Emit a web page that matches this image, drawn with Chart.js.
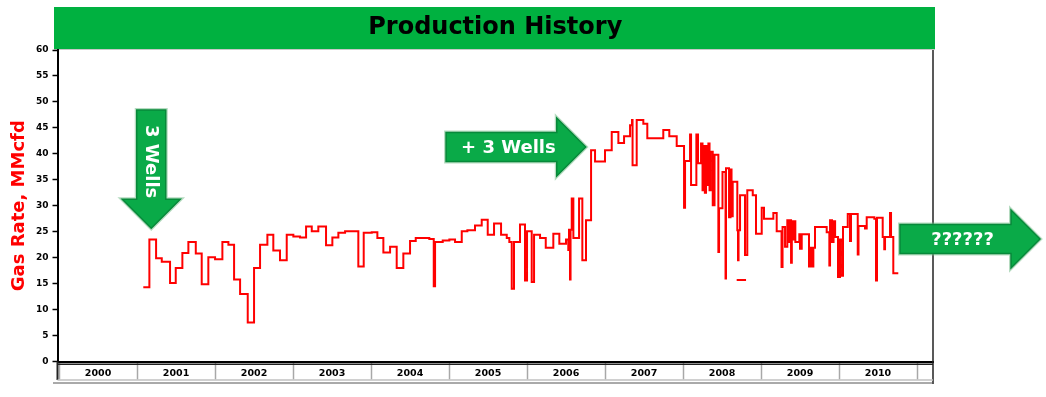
<!DOCTYPE html>
<html><head><meta charset="utf-8">
<script src="https://cdn.jsdelivr.net/npm/chart.js@4.4.1/dist/chart.umd.min.js"></script>
<style>html,body{margin:0;padding:0;background:#fff;overflow:hidden}canvas{display:block}</style>
</head><body>
<canvas id="c" width="1046" height="397"></canvas>
<script>
// ---- data ----
const years = ['2000','2001','2002','2003','2004','2005','2006','2007','2008','2009','2010'];
const times = [
 2001.080,2001.158,2001.244,2001.317,2001.423,2001.496,2001.581,2001.658,2001.753,2001.829,2001.914,
 2002.000,2002.094,2002.171,2002.244,2002.321,2002.419,2002.500,2002.577,2002.671,2002.747,2002.833,2002.919,
 2003.004,2003.090,2003.167,2003.240,2003.324,2003.423,2003.504,2003.581,2003.667,2003.837,2003.906,
 2004.009,2004.081,2004.158,2004.244,2004.329,2004.414,2004.500,2004.573,2004.747,2004.804,2004.821,2004.919,
 2005.004,2005.077,2005.163,2005.235,2005.333,2005.419,2005.496,2005.577,2005.667,2005.740,2005.773,2005.804,2005.833,2005.910,2005.974,
 2006.000,2006.060,2006.090,2006.167,2006.240,2006.337,2006.414,2006.500,2006.529,2006.538,2006.551,2006.558,2006.573,2006.594,2006.667,2006.709,2006.756,2006.821,2006.872,
 2007.000,2007.086,2007.171,2007.244,2007.321,2007.346,2007.353,2007.406,2007.491,2007.542,2007.747,2007.824,2007.919,
 2008.013,2008.026,2008.090,2008.103,2008.171,2008.192,2008.231,2008.250,2008.265,2008.280,2008.295,2008.310,2008.325,2008.340,2008.355,2008.381,2008.404,2008.453,2008.462,2008.506,2008.545,2008.551,2008.590,2008.609,2008.622,2008.637,2008.696,2008.705,2008.712,2008.731,2008.795,2008.824,2008.894,2008.936,
 2009.009,2009.038,2009.158,2009.201,2009.263,2009.276,2009.308,2009.337,2009.360,2009.375,2009.385,2009.395,2009.410,2009.425,2009.440,2009.491,2009.500,2009.522,2009.615,2009.628,2009.654,2009.671,2009.692,2009.842,2009.876,2009.885,2009.910,2009.930,2009.950,2009.987,
 2010.013,2010.025,2010.051,2010.112,2010.141,2010.154,2010.240,2010.250,2010.333,2010.355,2010.453,2010.474,2010.487,2010.560,2010.580,2010.590,2010.654,2010.667,2010.696,2010.760
];
const rates = [
 14.3,23.5,19.9,19.2,15.1,18.0,20.9,23.0,20.8,14.9,20.1,
 19.7,23.0,22.5,15.8,13.0,7.5,18.0,22.5,24.4,21.4,19.5,24.4,
 24.1,23.9,26.0,25.1,26.0,22.4,23.9,24.8,25.1,18.3,24.8,
 24.9,23.8,21.0,22.1,18.0,20.8,23.2,23.8,23.6,14.5,23.0,23.3,
 23.5,23.0,25.1,25.3,26.2,27.3,24.4,26.6,24.4,23.8,23.0,14.0,23.0,26.4,15.6,
 25.1,15.3,24.4,23.8,21.9,24.6,22.7,23.5,21.5,25.4,15.8,25.4,31.4,23.8,31.4,19.5,27.2,40.7,38.5,
 40.7,44.2,42.1,43.4,45.5,46.5,37.8,46.5,45.8,43.0,44.6,43.4,41.5,
 29.6,38.6,43.7,34.0,43.7,38.2,42.0,33.0,41.5,32.5,41.5,34.0,42.0,33.0,40.4,30.1,39.8,21.1,29.5,36.5,16.0,37.2,27.8,37.0,28.0,34.6,25.3,19.5,25.3,32.0,20.5,33.0,32.0,24.6,
 29.6,27.5,28.6,25.1,18.2,25.9,22.1,27.2,23.0,27.2,19.0,27.0,23.5,27.0,23.0,24.5,21.7,24.5,18.3,21.9,18.3,21.9,25.9,24.9,18.5,27.2,23.0,27.0,24.0,16.3,
 23.5,16.5,25.9,28.4,23.2,28.4,20.6,26.1,25.6,27.8,27.5,15.6,27.7,24.0,21.6,24.0,28.6,24.0,17.0,17.0
];
const isolatedTimes = [2008.688, 2008.808];
const isolatedRates = [15.7, 15.7];
const yMin = 0, yMax = 60, yStep = 5;
const xMin = 1999.98, xMax = 2011.205;

// annotation arrows (anchor positions in data units)
const arrowTexts = ['3 Wells', '+ 3 Wells', '??????'];
const arrowDirs = ['down', 'right', 'right'];
const arrowTailX = [2001.182, 2004.962, 2010.782];
const arrowTipX  = [2001.182, 2006.753, 2012.577];
const arrowTailY = [48.44, 41.32, 23.60];
const arrowTipY  = [25.66, 41.32, 23.60];

// x ticks: year boundaries (marks) + mid-year positions (labels)
const xTickValues = [], xTickLabels = [];
years.forEach((y, i) => {
  const v = parseInt(y, 10);
  xTickValues.push(v); xTickLabels.push('');
  xTickValues.push(v + 0.5); xTickLabels.push(y);
});
xTickValues.push(parseInt(years[years.length - 1], 10) + 1); xTickLabels.push('');

const FONT = "'DejaVu Sans', Verdana, sans-serif";

function drawArrow(ctx, dir, tail, tip, text) {
  const shaft = 29, head = 58, hl = 29;
  ctx.save();
  ctx.beginPath();
  if (dir === 'right') {
    const y = tail.y, x0 = tail.x, x1 = tip.x;
    ctx.moveTo(x0, y - shaft / 2);
    ctx.lineTo(x1 - hl, y - shaft / 2);
    ctx.lineTo(x1 - hl, y - head / 2);
    ctx.lineTo(x1, y);
    ctx.lineTo(x1 - hl, y + head / 2);
    ctx.lineTo(x1 - hl, y + shaft / 2);
    ctx.lineTo(x0, y + shaft / 2);
  } else {
    const x = tail.x, y0 = tail.y, y1 = tip.y;
    ctx.moveTo(x - shaft / 2, y0);
    ctx.lineTo(x - shaft / 2, y1 - hl);
    ctx.lineTo(x - head / 2, y1 - hl);
    ctx.lineTo(x, y1);
    ctx.lineTo(x + head / 2, y1 - hl);
    ctx.lineTo(x + shaft / 2, y1 - hl);
    ctx.lineTo(x + shaft / 2, y0);
  }
  ctx.closePath();
  ctx.lineJoin = 'miter';
  ctx.strokeStyle = 'rgba(120,190,140,0.55)';
  ctx.lineWidth = 4;
  ctx.stroke();
  ctx.fillStyle = '#0AAA48';
  ctx.fill();
  ctx.strokeStyle = '#07893A';
  ctx.lineWidth = 1.5;
  ctx.stroke();
  ctx.fillStyle = '#ffffff';
  ctx.font = 'bold 18px ' + FONT;
  ctx.textAlign = 'center';
  ctx.textBaseline = 'middle';
  if (dir === 'right') {
    const cx = (tail.x + tip.x - hl) / 2 + 7;
    ctx.fillText(text, cx, tail.y + 1);
  } else {
    const cy = (tail.y + tip.y - hl) / 2 + 7;
    ctx.translate(tail.x, cy);
    ctx.rotate(Math.PI / 2);
    ctx.fillText(text, 0, 1);
  }
  ctx.restore();
}

const decor = {
  id: 'decor',
  beforeDraw(chart) {
    const {ctx, chartArea: ca} = chart;
    ctx.save();
    ctx.fillStyle = '#00B140';
    ctx.fillRect(ca.left - 3.5, 7, ca.right + 2 - (ca.left - 3.5), ca.top - 8);
    ctx.fillStyle = '#c8c8c8';
    ctx.fillRect(ca.left - 3.5, ca.top - 1, ca.right + 2 - (ca.left - 3.5), 1);
    ctx.restore();
  },
  afterDraw(chart) {
    const {ctx, chartArea: ca, scales} = chart;
    ctx.save();
    // frame
    ctx.strokeStyle = '#222';
    ctx.lineWidth = 1.5;
    ctx.beginPath(); ctx.moveTo(ca.right, ca.top); ctx.lineTo(ca.right, ca.bottom + 22.5); ctx.stroke();
    ctx.lineWidth = 1.5;
    ctx.beginPath(); ctx.moveTo(ca.left, ca.bottom + 2.8); ctx.lineTo(ca.right, ca.bottom + 2.8); ctx.stroke();
    ctx.lineWidth = 2;
    ctx.beginPath(); ctx.moveTo(ca.left, ca.bottom); ctx.lineTo(ca.left, ca.bottom + 18.5); ctx.stroke();
    ctx.strokeStyle = '#c0c0c0';
    ctx.lineWidth = 1.5;
    ctx.beginPath(); ctx.moveTo(ca.left, ca.bottom + 18.5); ctx.lineTo(ca.right, ca.bottom + 18.5); ctx.stroke();
    ctx.strokeStyle = '#555';
    ctx.lineWidth = 1;
    ctx.beginPath(); ctx.moveTo(ca.left - 4.5, ca.bottom + 21.5); ctx.lineTo(ca.right, ca.bottom + 21.5); ctx.stroke();
    ctx.restore();
    // arrows
    const xs = scales.x, ys = scales.y;
    arrowTexts.forEach((t, i) => {
      const tail = {x: xs.getPixelForValue(arrowTailX[i]), y: ys.getPixelForValue(arrowTailY[i])};
      const tip = {x: xs.getPixelForValue(arrowTipX[i]), y: ys.getPixelForValue(arrowTipY[i])};
      drawArrow(ctx, arrowDirs[i], tail, tip, t);
    });
  }
};

const lineStyle = {
  stepped: true, borderColor: '#ff0000', borderWidth: 2, pointRadius: 0,
  fill: false, tension: 0, borderJoinStyle: 'miter', borderCapStyle: 'butt'
};

new Chart(document.getElementById('c').getContext('2d'), {
  type: 'line',
  data: {
    datasets: [
      Object.assign({label: 'Gas Rate', data: times.map((t, i) => ({x: t, y: rates[i]}))}, lineStyle),
      Object.assign({label: 'Gas Rate (isolated)', data: isolatedTimes.map((t, i) => ({x: t, y: isolatedRates[i]}))}, lineStyle)
    ]
  },
  options: {
    responsive: false, animation: false, devicePixelRatio: 1,
    layout: {padding: {left: 0, right: 113, top: 0, bottom: 0}},
    plugins: {
      legend: {display: false},
      tooltip: {enabled: false},
      title: {
        display: true, text: 'Production History', fullSize: false, color: '#000',
        font: {family: FONT, weight: 'bold', size: 24, lineHeight: 1.2},
        padding: {top: 13.6, bottom: 7.6}
      }
    },
    scales: {
      x: {
        type: 'linear', min: xMin, max: xMax,
        afterBuildTicks: s => { s.ticks = xTickValues.map(v => ({value: v})); },
        afterFit: s => { s.height = 35.5; },
        ticks: {
          autoSkip: false, maxRotation: 0, minRotation: 0, padding: -11.5, color: '#000',
          font: {family: FONT, weight: 'bold', size: 9.5},
          callback: (v, i) => xTickLabels[i]
        },
        grid: {
          drawOnChartArea: false, drawTicks: true, tickLength: 18,
          tickColor: c => (c.index % 2 === 0 ? '#a8a8a8' : 'rgba(0,0,0,0)'),
          tickWidth: 1.5
        },
        border: {display: true, color: '#000', width: 2}
      },
      y: {
        min: yMin, max: yMax,
        afterFit: s => { s.width = 57.5; },
        ticks: {stepSize: yStep, color: '#000', padding: 4, font: {family: FONT, weight: 'bold', size: 9}},
        grid: {drawOnChartArea: false, drawTicks: true, tickLength: 5, tickColor: '#000', tickWidth: 1.5},
        border: {display: true, color: '#000', width: 2},
        title: {
          display: true, text: 'Gas Rate, MMcfd', color: '#ff0000',
          font: {family: FONT, weight: 'bold', size: 18, lineHeight: 1.2},
          padding: {top: 9, bottom: 0}
        }
      }
    }
  },
  plugins: [decor]
});
</script>
</body></html>
